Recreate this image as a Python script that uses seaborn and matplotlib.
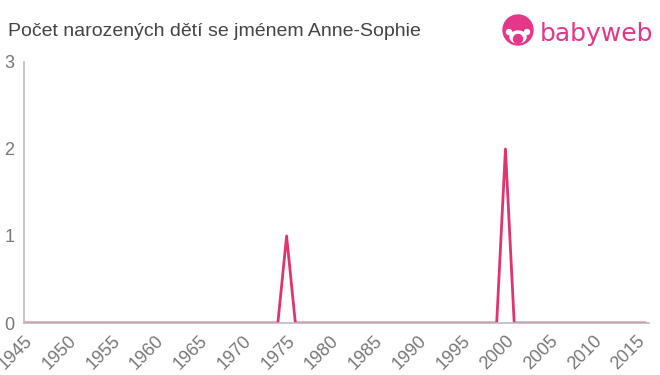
import matplotlib
matplotlib.use("Agg")
import matplotlib.pyplot as plt
import seaborn as sns
import pandas as pd
from matplotlib.patches import Circle, Ellipse

years = list(range(1945, 2017))
spike_years = [1975, 2000]
spike_values = [1, 2]
counts = [spike_values[spike_years.index(y)] if y in spike_years else 0 for y in years]
df = pd.DataFrame({"rok": years, "pocet": counts})

xticks = list(range(1945, 2016, 5))
yticks = [0, 1, 2, 3]

sns.set_style("white")
plt.rcParams['font.family'] = ['Liberation Sans', 'DejaVu Sans']

fig = plt.figure(figsize=(6.6, 3.75), dpi=100)
ax = fig.add_axes([24/660, 1-323/375, (649-24)/660, (323-62)/375])

line_color = "#e0336f"
sns.lineplot(data=df, x="rok", y="pocet", ax=ax, color=line_color, linewidth=2)

ax.set_xlim(1945, 2016.4)
ax.set_ylim(0, 3)
ax.set_xticks(xticks)
ax.set_xticklabels([str(x) for x in xticks], rotation=45, ha="right", va="top",
                   rotation_mode="anchor")
ax.set_yticks(yticks)
ax.set_xlabel("")
ax.set_ylabel("")
for s in ["top", "right"]:
    ax.spines[s].set_visible(False)
for s in ["left", "bottom"]:
    ax.spines[s].set_color("#bbbbbb")
    ax.spines[s].set_linewidth(1.2)
ax.tick_params(axis="both", colors="#bbbbbb", length=5, width=1.2, labelsize=13,
               labelcolor="#777777", pad=2)
ax.tick_params(axis="x", pad=2)

fig.text(8/660, 1-32/375, "Počet narozených dětí se jménem Anne-Sophie", fontsize=14,
         color="#444444", va="center", ha="left")

# logo
pink = "#e4378a"
lax = fig.add_axes([498/660, 1-50/375, 40/660, 38/375])
lax.set_xlim(0, 40)
lax.set_ylim(0, 38)
lax.set_aspect("equal")
lax.axis("off")
lax.add_patch(Circle((20, 20), 15, color=pink))
lax.add_patch(Ellipse((20, 13), 16, 12, color="white"))
lax.add_patch(Circle((20, 11), 4.5, color=pink))
lax.add_patch(Circle((11, 18), 2.5, color="white"))
lax.add_patch(Circle((29, 18), 2.5, color="white"))
fig.text(540/660, 1-34/375, "babyweb", fontsize=18, color=pink, va="center", ha="left",
         family=["DejaVu Sans"])

fig.savefig("out.png", dpi=100)
